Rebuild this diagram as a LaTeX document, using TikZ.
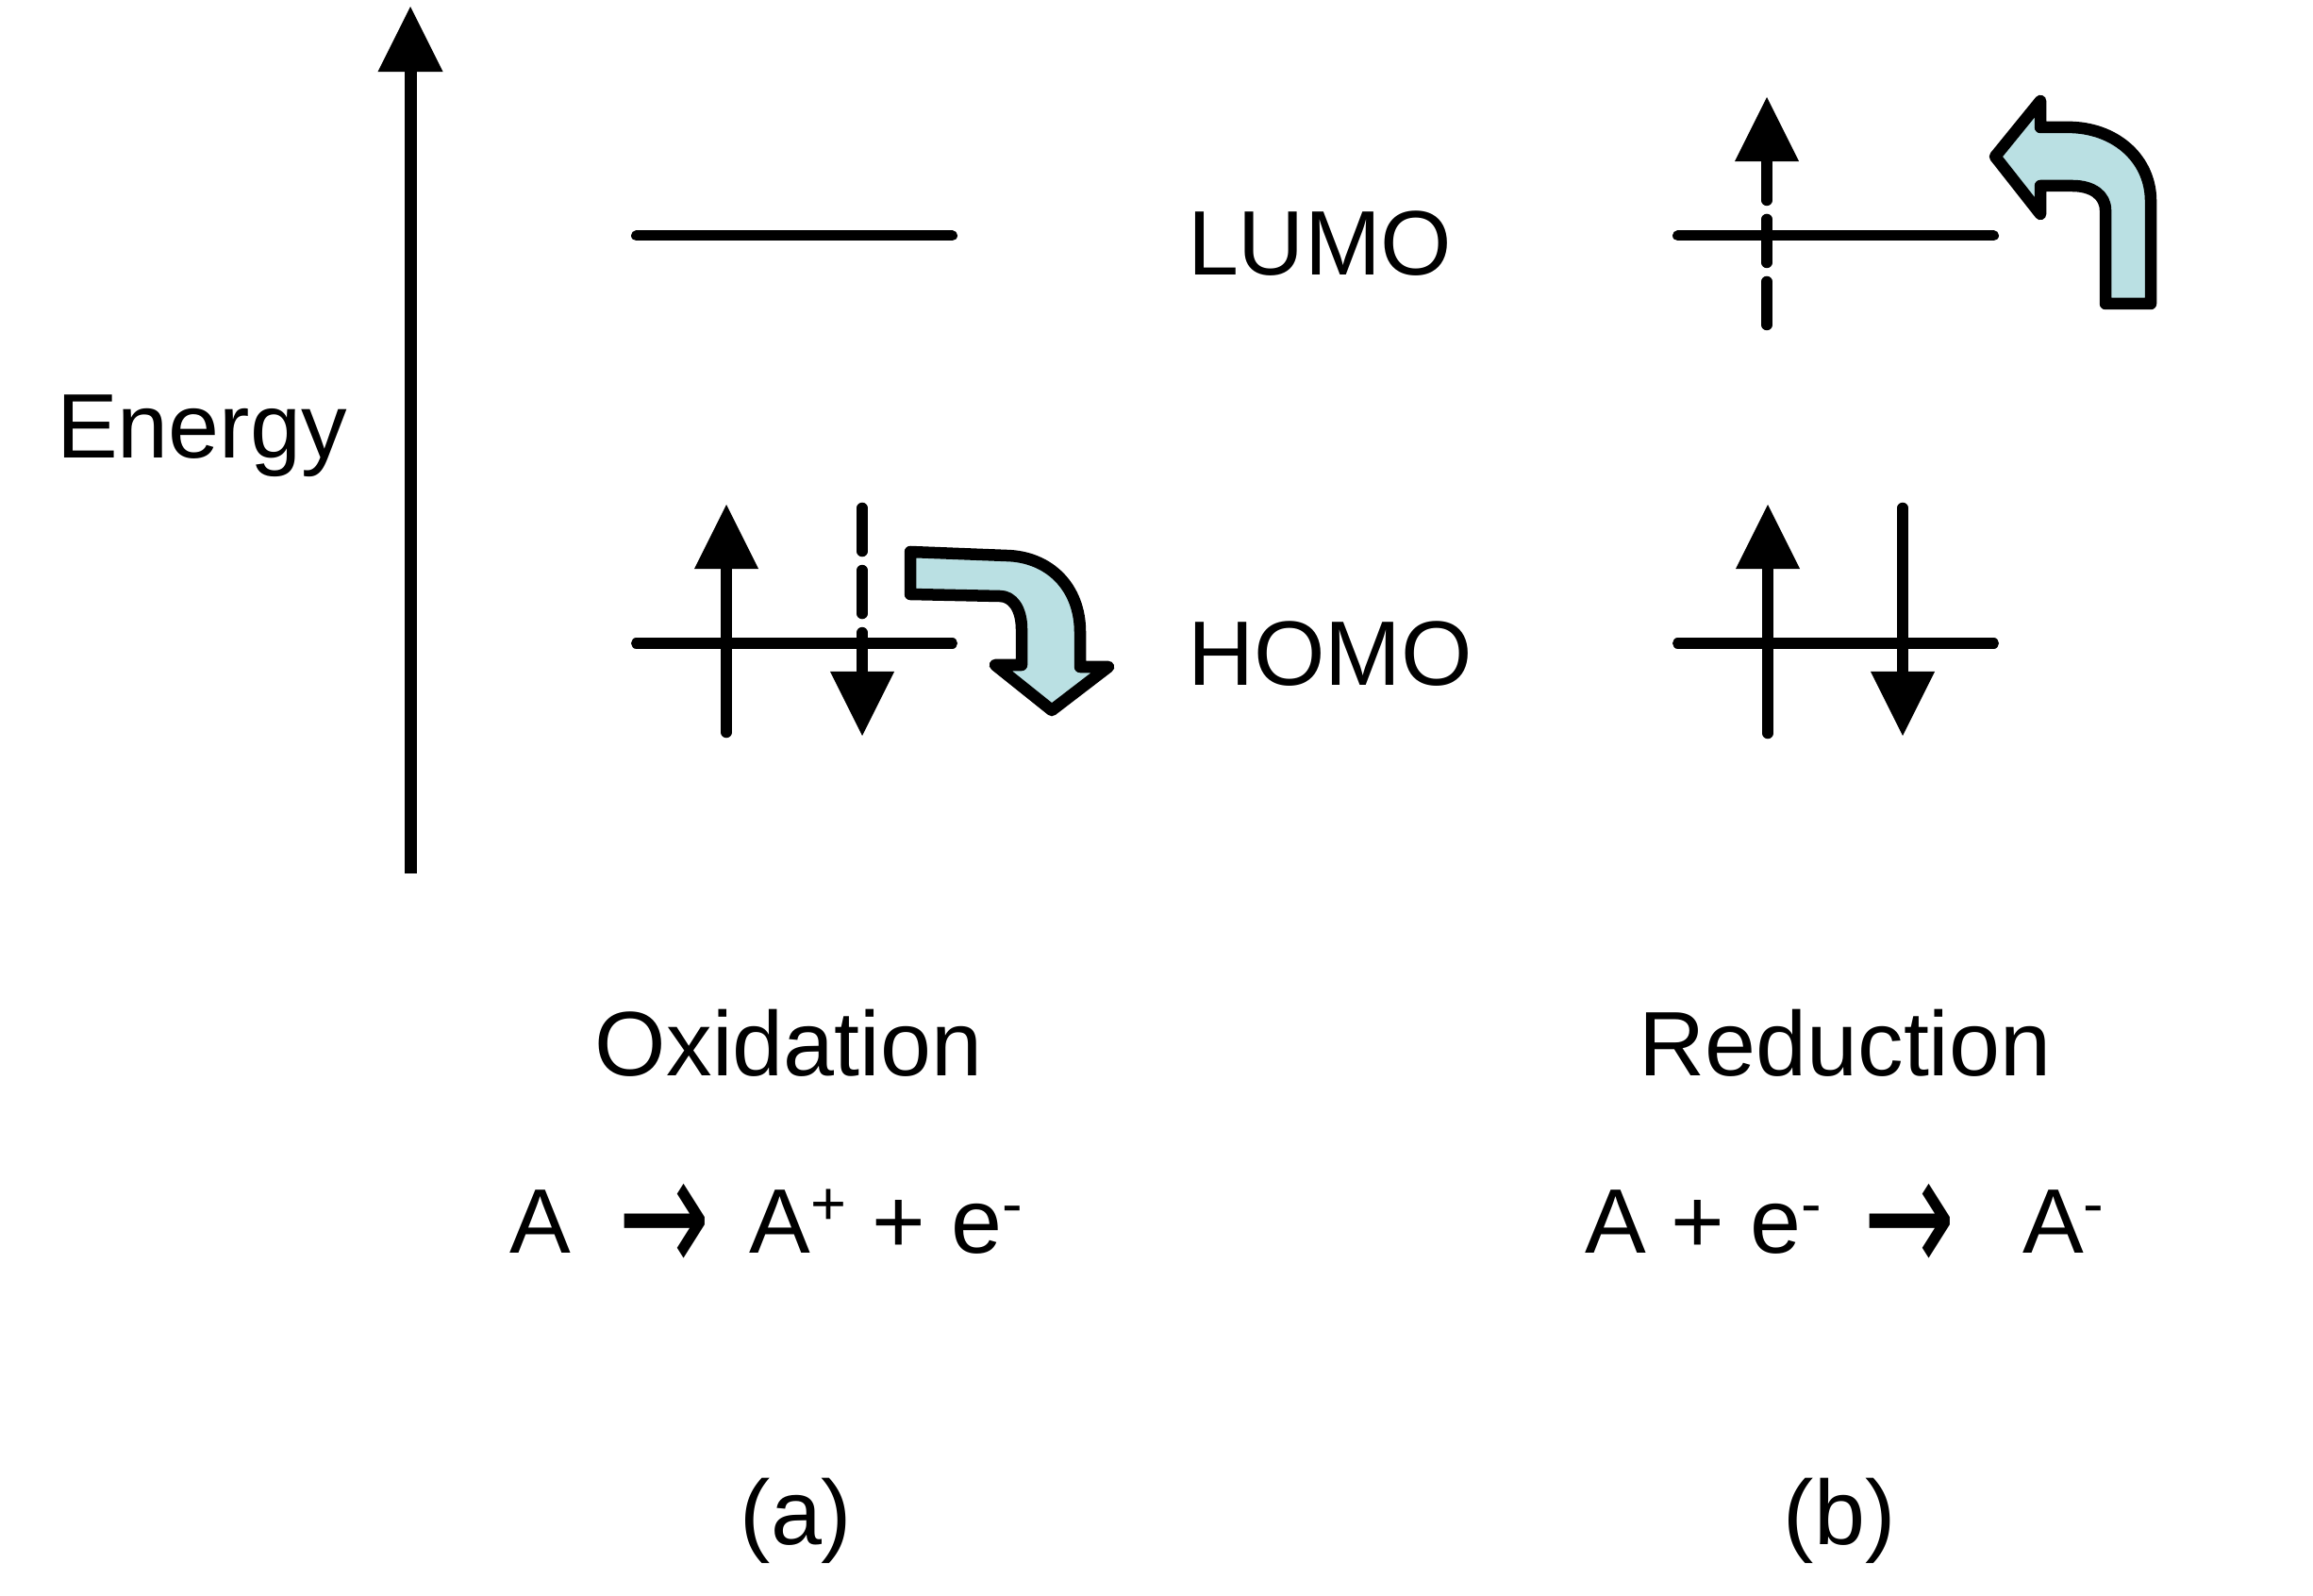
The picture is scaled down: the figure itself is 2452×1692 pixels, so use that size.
\documentclass[tikz,border=0pt]{standalone}
\usepackage{fontspec}
\setmainfont{Liberation Sans}
\newfontfamily\symfont{DejaVu Sans}
\usetikzlibrary{arrows.meta}
\definecolor{arrowfill}{RGB}{186,224,227}
\newcommand\mysup[1]{\raisebox{0.3em}{\fontsize{18.5}{20}\selectfont #1}}
\newcommand\rxarrow{\makebox[0.80cm][c]{\raisebox{-0.24cm}{\scalebox{1.2}[1.9]{\symfont →}}}}
\begin{document}
\begin{tikzpicture}[x=0.01cm, y=-0.01cm,
  txt/.style={inner sep=0pt, outer sep=0pt, anchor=base, font=\fontsize{27.6}{33}\selectfont},
  level/.style={line width=0.11cm, line cap=round},
  axisline/.style={line width=0.13cm, -{Triangle[length=0.69cm, width=0.69cm, line width=0pt]}},
  spin/.style={line width=0.115cm, line cap=round, -{Triangle[length=0.68cm, width=0.68cm, line width=0pt]}},
  dspin/.style={spin, dash pattern=on 0.46cm off 0.20cm},
  eflow/.style={draw, line width=0.125cm, line join=round, fill=arrowfill}]
\useasboundingbox (0,0) rectangle (2452,1692);

% energy axis
\coordinate (axbot) at (435,926);
\coordinate (axtop) at (435,7);
\draw[axisline] (axbot) -- (axtop);
\node[txt] (energy) at (214,486) {Energy};

% (a) oxidation levels
\coordinate (luA1) at (674.5,250); \coordinate (luA2) at (1009.5,250);
\coordinate (hoA1) at (674.5,682); \coordinate (hoA2) at (1009.5,682);
\draw[level] (luA1) -- (luA2);
\draw[level] (hoA1) -- (hoA2);
\coordinate (upA0) at (770,776.5); \coordinate (upA1) at (770,535);
\draw[spin] (upA0) -- (upA1);
\coordinate (dnA0) at (914,538.5); \coordinate (dnA1) at (914,780);
\draw[dspin] (dnA0) -- (dnA1);
\path[eflow] (965,585) -- (1067,589) .. controls (1112,590) and (1145,622) .. (1145,670)
  -- (1145,707) -- (1175,707) -- (1115,753) -- (1055,705) -- (1083,705) -- (1083,667)
  .. controls (1083,645) and (1073,632) .. (1060,632) -- (965,630) -- cycle;

% (b) reduction levels
\coordinate (luB1) at (1778.5,250); \coordinate (luB2) at (2113.5,250);
\coordinate (hoB1) at (1778.5,682); \coordinate (hoB2) at (2113.5,682);
\draw[level] (luB1) -- (luB2);
\draw[level] (hoB1) -- (hoB2);
\coordinate (upB0) at (1873,344.5); \coordinate (upB1) at (1873,103);
\draw[dspin] (upB0) -- (upB1);
\coordinate (upC0) at (1874,777.5); \coordinate (upC1) at (1874,535);
\draw[spin] (upC0) -- (upC1);
\coordinate (dnC0) at (2017,538.5); \coordinate (dnC1) at (2017,780);
\draw[spin] (dnC0) -- (dnC1);
\path[eflow] (2115,166) -- (2163,107) -- (2163,135) -- (2197,135)
  .. controls (2245,137) and (2280,170) .. (2280,213) -- (2280,322) -- (2232,322) -- (2232,223)
  .. controls (2232,207) and (2218,197) .. (2197,197) -- (2163,197) -- (2163,227) -- cycle;

% labels
\node[txt, anchor=base west] (lumo) at (1259,292) {LUMO};
\node[txt, anchor=base west] (homo) at (1259,727) {HOMO};
\node[txt] (oxid) at (836,1140) {Oxidation};
\node[txt] (redu) at (1956,1140) {Reduction};
\node[txt, anchor=base west] (eqA) at (540,1328)
  {A\hspace{0.59cm}\rxarrow\hspace{0.51cm}A\mysup{+} + e\mysup{-}};
\node[txt, anchor=base west] (eqB) at (1680,1328)
  {A + e\mysup{-}\hspace{0.53cm}\rxarrow\hspace{0.80cm}A\mysup{-}};
\node[txt] (laba) at (844,1637) {(a)};
\node[txt] (labb) at (1950,1637) {(b)};
\end{tikzpicture}
\end{document}
